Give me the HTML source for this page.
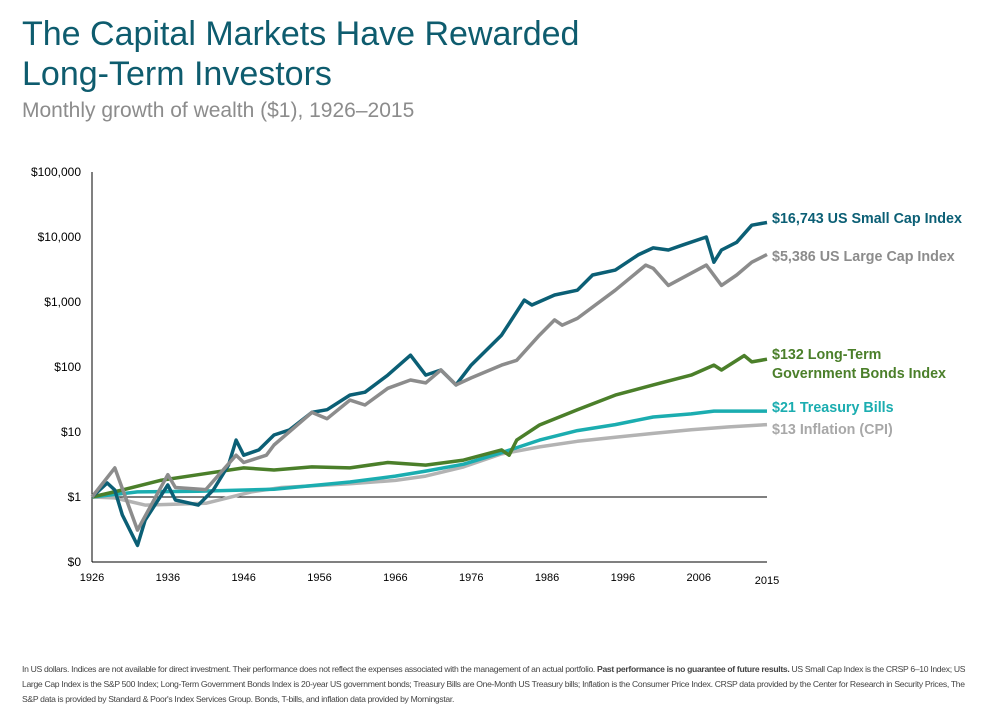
<!DOCTYPE html>
<html><head><meta charset="utf-8"><style>
body{margin:0;background:#fff;font-family:"Liberation Sans",sans-serif;}
#wrap{position:relative;width:1002px;height:712px;overflow:hidden;}
.t{position:absolute;left:22px;color:#0e5c6e;font-size:34px;line-height:40px;}
.st{position:absolute;left:22px;top:99px;color:#8c8c8c;font-size:21px;}
.fn{position:absolute;left:22px;top:662px;width:960px;font-size:8.6px;line-height:15px;color:#444;letter-spacing:-0.32px}
</style></head><body><div id="wrap">
<div class="t" style="top:14px">The Capital Markets Have Rewarded<br>Long-Term Investors</div>
<div class="st">Monthly growth of wealth ($1), 1926–2015</div>
<svg id="chart" width="1002" height="712" style="position:absolute;left:0;top:0"></svg>
<div class="fn">In US dollars. Indices are not available for direct investment. Their performance does not reflect the expenses associated with the management of an actual portfolio. <b>Past performance is no guarantee of future results.</b> US Small Cap Index is the CRSP 6–10 Index; US Large Cap Index is the S&amp;P 500 Index; Long-Term Government Bonds Index is 20-year US government bonds; Treasury Bills are One-Month US Treasury bills; Inflation is the Consumer Price Index. CRSP data provided by the Center for Research in Security Prices, The S&amp;P data is provided by Standard &amp; Poor's Index Services Group. Bonds, T-bills, and inflation data provided by Morningstar.</div>
</div>
<script>
const xTicks=[1926,1936,1946,1956,1966,1976,1986,1996,2006,2015];
const yTicks=[0.1,1,10,100,1000,10000,100000];
const yTickLabels=["$0","$1","$10","$100","$1,000","$10,000","$100,000"];
const smallYears=[1926,1928,1929,1930,1932,1933,1936,1937,1940,1942,1944,1945,1946,1948,1950,1952,1955,1957,1960,1962,1965,1968,1970,1972,1974,1976,1980,1983,1984,1987,1990,1992,1995,1998,2000,2002,2004,2007,2008,2009,2011,2013,2015];
const smallVals=[1,1.64,1.28,0.53,0.18,0.44,1.53,0.9,0.75,1.28,3.1,7.5,4.4,5.3,9,10.7,20,22,37,41,75,152,75,90,53,107,310,1070,900,1280,1520,2600,3100,5300,6800,6300,7600,10000,4100,6300,8300,15200,16743];
const largeYears=[1926,1929,1932,1936,1937,1941,1945,1946,1949,1950,1955,1957,1960,1962,1965,1968,1970,1972,1974,1976,1980,1982,1985,1987,1988,1990,1995,1999,2000,2002,2007,2009,2011,2013,2015];
const largeVals=[1,2.8,0.31,2.2,1.4,1.3,4.4,3.4,4.4,6.3,20,16,31,26,47,63,57,90,53,68,107,127,310,530,440,560,1520,3700,3300,1800,3700,1800,2600,4100,5386];
const bondYears=[1926,1930,1935,1940,1946,1950,1955,1960,1965,1970,1975,1980,1981,1982,1985,1990,1995,2000,2005,2008,2009,2012,2013,2015];
const bondVals=[1,1.28,1.8,2.2,2.8,2.6,2.9,2.8,3.4,3.1,3.7,5.3,4.4,7.5,12.8,22,37,53,75,107,90,150,120,132];
const billYears=[1926,1932,1940,1950,1960,1966,1970,1975,1980,1985,1990,1995,2000,2005,2008,2015];
const billVals=[1,1.2,1.23,1.32,1.7,2.1,2.5,3.2,4.8,7.5,10.5,13,17,19,21,21];
const cpiYears=[1926,1929,1933,1941,1947,1951,1960,1966,1970,1975,1980,1985,1990,1995,2000,2005,2010,2015];
const cpiVals=[1,0.97,0.75,0.8,1.2,1.4,1.6,1.8,2.1,2.9,4.6,5.9,7.2,8.3,9.5,10.8,12,13];
const NS="http://www.w3.org/2000/svg",svg=document.getElementById('chart');
const X=y=>92+(y-1926)*(767-92)/89;
const Y=v=>497-65*Math.log10(v);
function el(t,a){const e=document.createElementNS(NS,t);for(const k in a)e.setAttribute(k,a[k]);svg.appendChild(e);return e;}
let e=el('line',{x1:92,y1:172,x2:92,y2:562,stroke:'#000','stroke-width':1});

e=el('line',{x1:92,y1:562,x2:767,y2:562,stroke:'#000','stroke-width':1});

e=el('line',{x1:92,y1:Y(1),x2:767,y2:Y(1),stroke:'#000','stroke-width':1});

yTicks.forEach((v,i)=>{const t=el('text',{x:81,y:Y(v)+4,'text-anchor':'end','font-size':12,fill:'#000'});t.textContent=yTickLabels[i];
});
xTicks.forEach(v=>{const t=el('text',{x:X(v),y:v==2015?584:581,'text-anchor':'middle','font-size':11,fill:'#000'});t.textContent=v;
});
function line(ys,vs,c,name){const d=ys.map((y,i)=>(i?'L':'M')+X(y).toFixed(1)+','+Y(vs[i]).toFixed(1)).join('');
const p=el('path',{d:d,fill:'none',stroke:c,'stroke-width':3.5,'stroke-linejoin':'round'});
}
line(cpiYears,cpiVals,'#b3b3b3','inflation-line');
line(billYears,billVals,'#1badb0','tbills-line');
line(bondYears,bondVals,'#4b7f2a','bonds-line');
line(smallYears,smallVals,'#0b5f75','small-cap-line');
line(largeYears,largeVals,'#8c8c8c','large-cap-line');
function lab(y,txt,c,name){const t=el('text',{x:772,y:y,'font-size':14.3,'font-weight':'bold',fill:c});t.textContent=txt;
}
lab(223,'$16,743 US Small Cap Index','#0b5f75','small-cap-label');
lab(261,'$5,386 US Large Cap Index','#8c8c8c','large-cap-label');
lab(359,'$132 Long-Term','#4b7f2a','bonds-label');
lab(378,'Government Bonds Index','#4b7f2a','bonds-label-2');
lab(412,'$21 Treasury Bills','#1badb0','tbills-label');
lab(434,'$13 Inflation (CPI)','#a8a8a8','inflation-label');
</script></body></html>
